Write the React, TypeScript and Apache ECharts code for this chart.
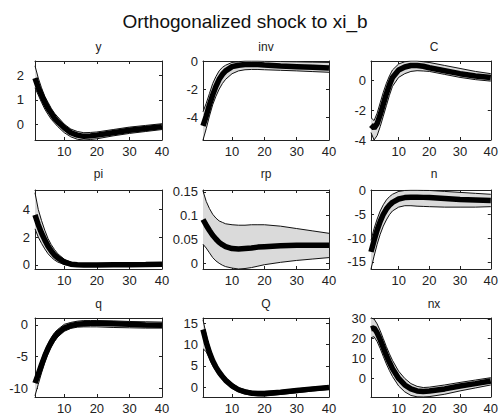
import React, { useEffect, useRef } from "react";
import * as echarts from "echarts";

// horizon points
const X = [1, 2, 3, 4, 5, 6, 7, 8, 10, 12, 14, 16, 18, 20, 25, 30, 35, 40];
const xTicks = [10, 20, 30, 40];

const titles = ["y", "inv", "C", "pi", "rp", "n", "q", "Q", "nx"];

const yMed = [1.9, 1.5, 1.2, 0.9, 0.65, 0.45, 0.25, 0.1, -0.15, -0.35, -0.45, -0.5, -0.48, -0.45, -0.35, -0.25, -0.18, -0.1];
const yUp = [2.4, 1.9, 1.5, 1.15, 0.9, 0.65, 0.45, 0.3, 0.0, -0.2, -0.3, -0.35, -0.34, -0.32, -0.22, -0.12, -0.05, 0.02];
const yLo = [1.5, 1.2, 0.9, 0.62, 0.4, 0.2, 0.05, -0.1, -0.35, -0.52, -0.62, -0.65, -0.63, -0.6, -0.48, -0.38, -0.3, -0.22];

const invMed = [-4.6, -3.9, -3.1, -2.4, -1.8, -1.3, -0.95, -0.7, -0.4, -0.3, -0.25, -0.25, -0.25, -0.28, -0.35, -0.4, -0.45, -0.5];
const invUp = [-3.6, -3.0, -2.3, -1.6, -1.1, -0.7, -0.45, -0.3, -0.1, -0.05, 0, 0, 0, -0.02, -0.04, -0.06, -0.08, -0.1];
const invLo = [-5.6, -4.8, -3.9, -3.1, -2.5, -2.0, -1.6, -1.3, -0.9, -0.7, -0.62, -0.6, -0.6, -0.62, -0.66, -0.7, -0.75, -0.8];

const cMed = [-3.0, -3.2, -2.9, -2.3, -1.6, -0.9, -0.3, 0.2, 0.7, 0.9, 1.0, 1.0, 0.95, 0.85, 0.65, 0.45, 0.3, 0.2];
const cUp = [-2.5, -2.7, -2.2, -1.5, -0.8, -0.2, 0.3, 0.7, 1.1, 1.25, 1.3, 1.3, 1.25, 1.2, 1.0, 0.8, 0.6, 0.45];
const cLo = [-3.5, -4.0, -3.7, -3.1, -2.4, -1.7, -1.0, -0.4, 0.2, 0.45, 0.6, 0.65, 0.63, 0.6, 0.4, 0.2, 0.05, -0.05];

const piMed = [3.6, 2.9, 2.3, 1.8, 1.35, 1.0, 0.7, 0.5, 0.2, 0.05, 0.0, -0.02, -0.02, -0.02, 0, 0, 0.02, 0.05];
const piUp = [5.2, 4.0, 3.2, 2.5, 1.9, 1.45, 1.1, 0.8, 0.4, 0.2, 0.1, 0.06, 0.05, 0.05, 0.06, 0.07, 0.1, 0.15];
const piLo = [2.6, 2.0, 1.55, 1.15, 0.8, 0.55, 0.35, 0.2, 0.02, -0.05, -0.08, -0.08, -0.08, -0.08, -0.08, -0.08, -0.07, -0.06];

const rpMed = [0.092, 0.08, 0.069, 0.059, 0.051, 0.044, 0.039, 0.035, 0.031, 0.03, 0.031, 0.032, 0.034, 0.035, 0.037, 0.038, 0.038, 0.038];
const rpUp = [0.152, 0.13, 0.115, 0.103, 0.095, 0.089, 0.086, 0.083, 0.081, 0.08, 0.08, 0.081, 0.081, 0.081, 0.078, 0.073, 0.068, 0.063];
const rpLo = [0.04, 0.032, 0.022, 0.012, 0.005, 0.0, -0.004, -0.007, -0.01, -0.012, -0.011, -0.009, -0.006, -0.003, 0.002, 0.006, 0.009, 0.012];

const nMed = [-12.9, -10.5, -8.3, -6.5, -5.0, -3.9, -3.1, -2.5, -1.8, -1.5, -1.4, -1.4, -1.45, -1.5, -1.7, -1.9, -2.0, -2.1];
const nUp = [-10.5, -8.0, -6.0, -4.3, -3.0, -2.0, -1.3, -0.8, -0.2, 0, 0.05, 0.05, 0.02, 0, -0.2, -0.4, -0.6, -0.8];
const nLo = [-16.5, -13.8, -11.3, -9.2, -7.5, -6.2, -5.1, -4.3, -3.5, -3.2, -3.2, -3.3, -3.35, -3.4, -3.5, -3.5, -3.5, -3.4];

const qMed = [-9.2, -7.8, -6.3, -4.9, -3.7, -2.7, -1.9, -1.3, -0.5, -0.1, 0.1, 0.2, 0.25, 0.25, 0.2, 0.1, 0.0, -0.05];
const qUp = [-8.5, -7.0, -5.5, -4.1, -3.0, -2.0, -1.2, -0.7, 0.1, 0.4, 0.6, 0.7, 0.7, 0.7, 0.65, 0.55, 0.5, 0.45];
const qLo = [-11.2, -9.4, -7.6, -6.0, -4.6, -3.5, -2.6, -1.9, -1.0, -0.55, -0.35, -0.3, -0.3, -0.3, -0.4, -0.45, -0.5, -0.5];

const bigQMed = [13.5, 10.5, 8.1, 6.2, 4.7, 3.5, 2.5, 1.6, 0.3, -0.6, -1.1, -1.4, -1.5, -1.5, -1.2, -0.8, -0.4, -0.05];
const bigQUp = [15.8, 12.2, 9.4, 7.2, 5.5, 4.2, 3.2, 2.3, 0.9, -0.1, -0.6, -0.9, -1.0, -1.0, -0.8, -0.4, 0, 0.3];
const bigQLo = [9.0, 8.3, 6.6, 5.0, 3.8, 2.7, 1.8, 1.0, -0.3, -1.1, -1.6, -1.9, -2.05, -2.1, -1.7, -1.3, -0.9, -0.5];

const nxMed = [25, 25.5, 23, 19.5, 15.5, 11.5, 8, 4.8, -0.2, -3.5, -5.5, -6.5, -6.8, -6.6, -5.5, -4, -2.8, -1.5];
const nxUp = [30.5, 30, 27.5, 24, 20, 16, 12.3, 9, 3.5, -0.2, -2.8, -4.2, -4.8, -4.6, -3.5, -2.2, -1.0, 0.2];
const nxLo = [20.5, 21, 18.5, 15, 11, 7.2, 3.8, 0.8, -4, -7, -8.8, -9.5, -9.6, -9.4, -8.2, -6.5, -5, -3.5];

const yTicks = [
  [0, 1, 2],
  [-4, -2, 0],
  [-4, -2, 0],
  [0, 2, 4],
  [0, 0.05, 0.1, 0.15],
  [-15, -10, -5, 0],
  [-10, -5, 0],
  [0, 5, 10, 15],
  [0, 10, 20, 30],
];
const yMin = [-0.65, -5.6, -4, -0.3, -0.012, -16.5, -11.4, -2.3, -9.6];
const yMax = [2.6, 0, 1.3, 5.4, 0.154, 0.1, 1.1, 16.2, 30.5];

const meds = [yMed, invMed, cMed, piMed, rpMed, nMed, qMed, bigQMed, nxMed];
const ups = [yUp, invUp, cUp, piUp, rpUp, nUp, qUp, bigQUp, nxUp];
const los = [yLo, invLo, cLo, piLo, rpLo, nLo, qLo, bigQLo, nxLo];

// layout (pixels)
const colLeft = [35, 203, 371];
const colW = [127, 126, 126];
const rowTop = [61, 190, 318];
const rowH = 79;
const titleY = [47, 174, 304];
const labelMargin = [11, 5, 5, 5, 5, 5, 7, 5, 5];

const FONT = "'Liberation Sans', Arial, Helvetica, sans-serif";
const TXT = "#222";

function bandRenderItem(params: any, api: any) {
  if (params.dataIndexInside !== 0) return null;
  const n = params.dataInsideLength;
  const top: number[][] = [];
  const bottom: number[][] = [];
  for (let k = 0; k < n; k++) {
    const x = api.value(0, k);
    top.push(api.coord([x, api.value(2, k)]));
    bottom.push(api.coord([x, api.value(1, k)]));
  }
  const points = top.concat(bottom.reverse());
  return {
    type: "polygon",
    shape: { points },
    style: { fill: "#dadada", stroke: "none" },
    silent: true,
  };
}

function buildOption() {
  const grid: any[] = [];
  const xAxis: any[] = [];
  const yAxis: any[] = [];
  const series: any[] = [];
  const graphic: any[] = [
    {
      type: "text",
      x: 245,
      y: 21,
      style: {
        text: "Orthogonalized shock to xi_b",
        font: `19px ${FONT}`,
        fill: "#111",
        textAlign: "center",
        textVerticalAlign: "middle",
      },
    },
  ];
  const pair = (a: number[]) => X.map((x, k) => [x, a[k]]);
  const lineCol = "#222";

  for (let i = 0; i < 9; i++) {
    const r = Math.floor(i / 3);
    const c = i % 3;
    grid.push({ left: colLeft[c], top: rowTop[r], width: colW[c], height: rowH, containLabel: false });
    graphic.push({
      type: "text",
      x: colLeft[c] + colW[c] / 2,
      y: titleY[r],
      style: {
        text: titles[i],
        font: `12px ${FONT}`,
        fill: TXT,
        textAlign: "center",
        textVerticalAlign: "middle",
      },
    });
    const baseX = {
      type: "value",
      gridIndex: i,
      min: 1,
      max: 40,
      splitLine: { show: false },
      axisLine: { show: true, onZero: false, lineStyle: { color: lineCol, width: 1 } },
    };
    xAxis.push({
      ...baseX,
      position: "bottom",
      axisTick: { show: true, inside: true, length: 3, customValues: xTicks, lineStyle: { color: lineCol } },
      axisLabel: { show: true, customValues: xTicks, margin: 5, fontSize: 13, fontFamily: FONT, color: TXT },
    });
    xAxis.push({
      ...baseX,
      position: "top",
      axisTick: { show: true, inside: true, length: 3, customValues: xTicks, lineStyle: { color: lineCol } },
      axisLabel: { show: false },
    });
    const baseY = {
      type: "value",
      gridIndex: i,
      min: yMin[i],
      max: yMax[i],
      splitLine: { show: false },
      axisLine: { show: true, onZero: false, lineStyle: { color: lineCol, width: 1 } },
    };
    yAxis.push({
      ...baseY,
      position: "left",
      axisTick: { show: true, inside: true, length: 3, customValues: yTicks[i], lineStyle: { color: lineCol } },
      axisLabel: {
        show: true,
        customValues: yTicks[i],
        margin: labelMargin[i],
        fontSize: 13,
        fontFamily: FONT,
        color: TXT,
        formatter: (v: number) => String(v),
      },
    });
    yAxis.push({
      ...baseY,
      position: "right",
      axisTick: { show: true, inside: true, length: 3, customValues: yTicks[i], lineStyle: { color: lineCol } },
      axisLabel: { show: false },
    });

    series.push({
      type: "custom",
      xAxisIndex: 2 * i,
      yAxisIndex: 2 * i,
      silent: true,
      clip: true,
      encode: { x: 0, y: [1, 2] },
      data: X.map((x, k) => [x, los[i][k], ups[i][k]]),
      renderItem: bandRenderItem,
      z: 1,
    });

    const common = {
      type: "line",
      xAxisIndex: 2 * i,
      yAxisIndex: 2 * i,
      symbol: "none",
      silent: true,
      z: 2,
    };
    series.push({ ...common, data: pair(ups[i]), lineStyle: { color: "#111", width: 1 } });
    series.push({ ...common, data: pair(los[i]), lineStyle: { color: "#111", width: 1 } });
    series.push({ ...common, data: pair(meds[i]), lineStyle: { color: "#000", width: 5.5 } });
  }

  return {
    animation: false,
    backgroundColor: "#fff",
    grid,
    xAxis,
    yAxis,
    series,
    graphic,
  };
}

export default function App() {
  const ref = useRef<HTMLDivElement>(null);
  useEffect(() => {
    if (!ref.current) return;
    const chart = echarts.init(ref.current, null, { renderer: "svg" });
    chart.setOption(buildOption() as any);
    return () => chart.dispose();
  }, []);
  return (
    <div
      ref={ref}
      style={{ position: "absolute", left: 0, top: 0, width: 501, height: 416, background: "#fff" }}
    />
  );
}
